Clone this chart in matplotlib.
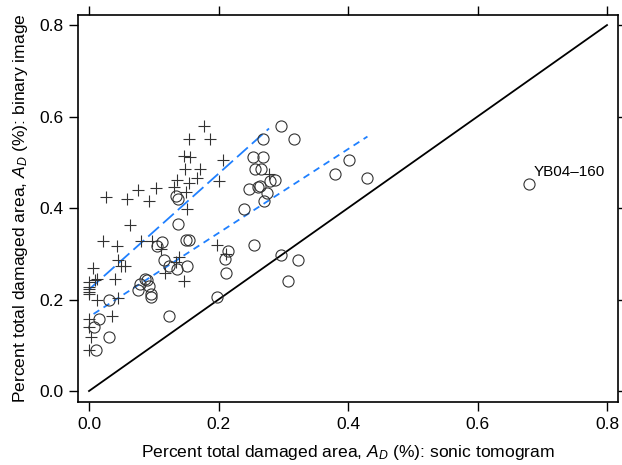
import numpy as np
import matplotlib
matplotlib.use("Agg")
from matplotlib import pyplot as plt

plt.rcParams['font.family'] = ['Liberation Sans', 'DejaVu Sans']
plt.rcParams['mathtext.fontset'] = 'custom'
plt.rcParams['mathtext.rm'] = 'Liberation Sans'
plt.rcParams['mathtext.it'] = 'Liberation Sans:italic'

# circles: sonic tomogram vs binary image
circ_x = [0.297, 0.268, 0.317, 0.254, 0.269, 0.257, 0.265, 0.288, 0.280, 0.247,
          0.261, 0.264, 0.275, 0.270, 0.239, 0.134, 0.138, 0.137, 0.150, 0.154,
          0.105, 0.112, 0.116, 0.123, 0.136, 0.151, 0.214, 0.210, 0.212, 0.255,
          0.297, 0.323, 0.308, 0.197, 0.086, 0.089, 0.079, 0.075, 0.092, 0.096,
          0.095, 0.031, 0.015, 0.007, 0.031, 0.011, 0.124, 0.380, 0.401, 0.430,
          0.680]
circ_y = [0.579, 0.550, 0.550, 0.512, 0.511, 0.485, 0.485, 0.461, 0.459, 0.441,
          0.445, 0.448, 0.432, 0.415, 0.398, 0.426, 0.420, 0.365, 0.330, 0.330,
          0.318, 0.326, 0.286, 0.273, 0.267, 0.274, 0.307, 0.289, 0.258, 0.319,
          0.298, 0.286, 0.241, 0.206, 0.245, 0.243, 0.234, 0.221, 0.230, 0.212,
          0.205, 0.200, 0.157, 0.139, 0.117, 0.090, 0.165, 0.474, 0.504, 0.466,
          0.452]

# plus signs
plus_x = [0.178, 0.155, 0.187, 0.147, 0.156, 0.207, 0.149, 0.171, 0.136, 0.167,
          0.200, 0.154, 0.131, 0.103, 0.075, 0.150, 0.026, 0.058, 0.093, 0.152,
          0.063, 0.278, 0.022, 0.044, 0.081, 0.098, 0.197, 0.211, 0.006, 0.045,
          0.050, 0.056, 0.040, 0.139, 0.134, 0.117, 0.147, 0.000, 0.000, 0.000,
          0.010, 0.013, 0.045, 0.036, 0.000, 0.000, 0.003, 0.000, 0.111, 0.000,
          0.000, 0.013]
plus_y = [0.579, 0.550, 0.550, 0.514, 0.512, 0.505, 0.485, 0.485, 0.461, 0.465,
          0.460, 0.454, 0.447, 0.444, 0.439, 0.434, 0.425, 0.420, 0.415, 0.399,
          0.364, 0.474, 0.328, 0.318, 0.328, 0.328, 0.319, 0.299, 0.268, 0.286,
          0.274, 0.274, 0.245, 0.294, 0.282, 0.259, 0.241, 0.239, 0.228, 0.217,
          0.243, 0.200, 0.204, 0.164, 0.157, 0.139, 0.117, 0.090, 0.310, 0.224,
          0.212, 0.244]

# fitted lines (intercept, slope)
plus_fit = (0.222, 1.266)
circ_fit = (0.162, 0.917)
ticks = [0.0, 0.2, 0.4, 0.6, 0.8]

fig = plt.figure(figsize=(6.22, 4.65), dpi=100)
ax = fig.add_axes([0.1254, 0.1355, 0.8682, 0.8322])

ax.plot([0, 0.8], [0, 0.8], color='black', lw=1.3)

px = np.array([min(plus_x), max(plus_x)])
ax.plot(px, plus_fit[0] + plus_fit[1] * px, color='#1f80ff', lw=1.3,
        dashes=(8, 3))
cx_in = [x for x in circ_x if x < 0.6]
cx = np.array([min(cx_in), max(cx_in)])
ax.plot(cx, circ_fit[0] + circ_fit[1] * cx, color='#1f80ff', lw=1.3,
        dashes=(3.8, 2.8))

ax.plot(plus_x, plus_y, '+', color='#333333', ms=9, mew=0.8)
ax.plot(circ_x, circ_y, 'o', mfc='none', mec='#333333', ms=8, mew=0.8)

ax.text(0.687, 0.478, 'YB04\u2013160', fontsize=11, va='center', ha='left')

ax.set_xlim(-0.017, 0.817)
ax.set_ylim(-0.024, 0.822)
ax.set_xticks(ticks)
ax.set_yticks(ticks)
ax.set_xticklabels(['%.1f' % t for t in ticks])
ax.set_yticklabels(['%.1f' % t for t in ticks])
ax.tick_params(direction='out', length=6.5, width=1, labelsize=12.5, pad=4,
               top=True, right=True)
for s in ax.spines.values():
    s.set_linewidth(1.2)

ax.set_xlabel('Percent total damaged area, $A_D$ (%): sonic tomogram',
              fontsize=12.6, labelpad=8)
ax.set_ylabel('Percent total damaged area, $A_D$ (%): binary image',
              fontsize=12.6, labelpad=7)

fig.savefig('out.png', dpi=100)
